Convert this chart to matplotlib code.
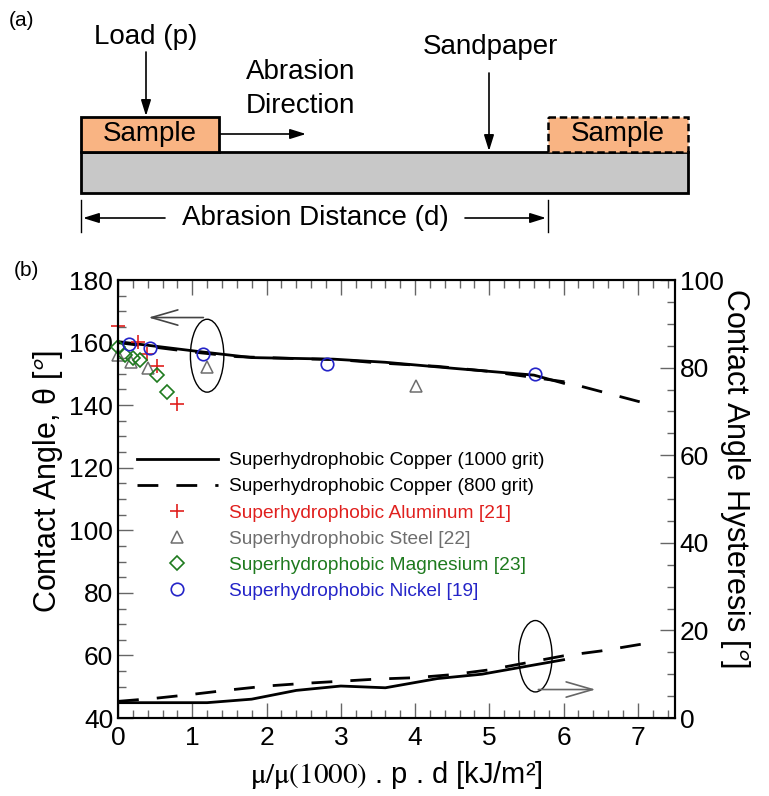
import matplotlib
matplotlib.use("Agg")
import matplotlib.pyplot as plt
from matplotlib.patches import Rectangle, Ellipse
from matplotlib.ticker import MultipleLocator

plt.rcParams['font.family'] = ['Liberation Sans', 'DejaVu Sans']
plt.rcParams['mathtext.fontset'] = 'stix'

# --- donnees ---
# angle de contact (axe gauche)
cu1000_x = [0, 1.1, 1.8, 2.9, 3.6, 4.5, 5.6, 6.0]
cu1000_ca = [160.3, 157.1, 155.2, 154.7, 153.7, 151.8, 149.6, 147.0]
cu800_x = [0, 1.0, 1.6, 2.5, 3.0, 3.5, 4.3, 5.0, 6.0, 7.1]
cu800_ca = [160.0, 157.0, 155.5, 154.8, 154.5, 153.5, 152.4, 150.8, 147.5, 140.6]

# hysteresis (axe droit)
cu1000_hx = [0, 1.2, 1.8, 2.4, 3.0, 3.6, 4.3, 4.9, 5.4, 6.0]
cu1000_h = [3.5, 3.5, 4.3, 6.3, 7.3, 6.9, 9.0, 10.0, 11.5, 13.3]
cu800_hx = [0, 0.5, 1.0, 1.5, 2.0, 2.5, 3.0, 3.5, 4.0, 4.5, 5.0, 5.5, 6.0, 6.5, 7.1]
cu800_h = [3.8, 4.5, 5.4, 6.4, 7.3, 7.9, 8.4, 8.9, 9.2, 9.9, 11.0, 12.6, 14.2, 15.3, 17.0]

# autres materiaux
al_x = [0.0, 0.27, 0.39, 0.53, 0.79]
al_ca = [165.4, 160.3, 156.3, 152.5, 140.3]
steel_x = [0.0, 0.18, 0.41, 1.20, 4.01]
steel_ca = [156.0, 153.9, 152.0, 152.1, 146.0]
mg_x = [0.0, 0.1, 0.2, 0.3, 0.53, 0.66]
mg_ca = [158.6, 156.0, 155.2, 154.3, 149.6, 144.1]
ni_x = [0.15, 0.43, 1.14, 2.82, 5.61]
ni_ca = [159.4, 158.2, 156.2, 153.1, 149.9]

labels = ["Superhydrophobic Copper (1000 grit)",
          "Superhydrophobic Copper (800 grit)",
          "Superhydrophobic Aluminum [21]",
          "Superhydrophobic Steel [22]",
          "Superhydrophobic Magnesium [23]",
          "Superhydrophobic Nickel [19]"]

RED = '#e0201e'
GRAY = '#6e6e6e'
GREEN = '#1e7a1e'
BLUE = '#2424c8'

W, H = 769, 796
fig = plt.figure(figsize=(W / 100, H / 100), dpi=100)

# ---------------- (a) schema ----------------
top = fig.add_axes([0, 1 - 250 / H, 1, 250 / H])
top.set_xlim(0, W)
top.set_ylim(250, 0)
top.axis('off')

fs_a = 20
top.text(22, 20, "(a)", fontsize=15, ha='center', va='center')
top.add_patch(Rectangle((81, 152), 607, 41, fc='#c8c8c8', ec='black', lw=2))
top.add_patch(Rectangle((81, 117), 138, 35, fc='#f9b483', ec='black', lw=2))
top.add_patch(Rectangle((548, 117), 140, 35, fc='#f9b483', ec='black', lw=1.8, ls=(0, (3, 1.5))))
top.text(150, 134, "Sample", fontsize=fs_a, ha='center', va='center')
top.text(618, 134, "Sample", fontsize=fs_a, ha='center', va='center')

arr = dict(arrowstyle='-|>,head_length=0.8,head_width=0.25', color='black', lw=1.2,
           shrinkA=0, shrinkB=0, mutation_scale=12)
top.text(146, 37, "Load (p)", fontsize=fs_a, ha='center', va='center')
top.annotate('', xy=(146, 116), xytext=(146, 52), arrowprops=arr)
top.text(246, 72, "Abrasion", fontsize=fs_a, ha='left', va='center')
top.text(246, 106, "Direction", fontsize=fs_a, ha='left', va='center')
top.annotate('', xy=(306, 134), xytext=(220, 134), arrowprops=arr)
top.text(490, 47, "Sandpaper", fontsize=fs_a, ha='center', va='center')
top.annotate('', xy=(489, 151), xytext=(489, 73), arrowprops=arr)

top.plot([81, 81], [200, 232], color='black', lw=1)
top.plot([548, 548], [200, 232], color='black', lw=1)
top.annotate('', xy=(83, 218), xytext=(165, 218), arrowprops=arr)
top.annotate('', xy=(546, 218), xytext=(465, 218), arrowprops=arr)
top.text(315, 218, "Abrasion Distance (d)", fontsize=fs_a, ha='center', va='center')

# ---------------- (b) graphe ----------------
ax = fig.add_axes([118 / W, 78 / H, 557 / W, 438 / H])
ax2 = ax.twinx()

lw = 2.0
dash = (0, (7.5, 6.5))
ax.plot(cu1000_x, cu1000_ca, color='black', lw=lw, label=labels[0])
ax.plot(cu800_x, cu800_ca, color='black', lw=lw, ls=dash, label=labels[1])
ax.plot(al_x, al_ca, ls='none', marker='+', ms=10, mew=1.2, color=RED, label=labels[2],
        clip_on=False)
ax.plot(steel_x, steel_ca, ls='none', marker='^', ms=8, mfc='none', mew=1.1, color=GRAY,
        label=labels[3], clip_on=False)
ax.plot(mg_x, mg_ca, ls='none', marker='D', ms=7, mfc='none', mew=1.2, color=GREEN,
        label=labels[4], clip_on=False)
ax.plot(ni_x, ni_ca, ls='none', marker='o', ms=9, mfc='none', mew=1.2, color=BLUE,
        label=labels[5], clip_on=False)

ax2.plot(cu1000_hx, cu1000_h, color='black', lw=lw)
ax2.plot(cu800_hx, cu800_h, color='black', lw=lw, ls=dash)

ax.set_xlim(0, 7.5)
ax.set_ylim(40, 180)
ax2.set_ylim(0, 100)

ax.xaxis.set_major_locator(MultipleLocator(1))
ax.xaxis.set_minor_locator(MultipleLocator(0.2))
ax.yaxis.set_major_locator(MultipleLocator(20))
ax.yaxis.set_minor_locator(MultipleLocator(5))
ax2.yaxis.set_major_locator(MultipleLocator(20))
ax2.yaxis.set_minor_locator(MultipleLocator(5))

fs_tick = 19
ax.tick_params(which='both', direction='in', top=True, right=False, color='#666666',
               labelsize=fs_tick)
ax.tick_params(which='major', length=11, width=1)
ax.tick_params(which='minor', length=6, width=1)
ax.tick_params(axis='x', pad=6)
ax2.tick_params(which='both', direction='in', color='#666666', labelsize=fs_tick)
ax2.tick_params(which='major', length=11, width=1)
ax2.tick_params(which='minor', length=6, width=1)
for sp in ax.spines.values():
    sp.set_linewidth(1.5)
for sp in ax2.spines.values():
    sp.set_linewidth(1.5)

ax.set_ylabel("Contact Angle, θ [$^{\\mathsf{o}}$]", fontsize=22, ha='center', va='center')
ax.yaxis.set_label_coords(-0.126, 0.54)
ax2.set_ylabel("Contact Angle Hysteresis [$^{\\mathsf{o}}$]", fontsize=22, rotation=270,
               ha='center', va='center')
ax2.yaxis.set_label_coords(1.108, 0.547)
ax.set_xlabel(r"$\mathrm{\mu/\mu(1000)}$ . p . d [kJ/m²]", fontsize=21, labelpad=6)

fig.text(26 / W, 1 - 270 / H, "(b)", fontsize=15, ha='center', va='center')

# ellipses + fleches
head = '->,head_length=1.9,head_width=0.55'
ax.add_patch(Ellipse((1.20, 155.8), 0.45, 23.3, fill=False, ec='black', lw=1))
ax.annotate('', xy=(0.41, 168.0), xytext=(1.15, 168.0),
            arrowprops=dict(arrowstyle=head, color='#444444', lw=1.2,
                            shrinkA=0, shrinkB=0, mutation_scale=10))
ax2.add_patch(Ellipse((5.62, 14.1), 0.45, 16.3, fill=False, ec='black', lw=1))
ax2.annotate('', xy=(6.43, 6.5), xytext=(5.66, 6.5),
             arrowprops=dict(arrowstyle=head, color='#666666', lw=1.2,
                             shrinkA=0, shrinkB=0, mutation_scale=10))

leg = ax.legend(loc='upper left', bbox_to_anchor=(137 / W, 1 - 452 / H),
                bbox_transform=fig.transFigure, frameon=False, fontsize=13.8,
                handlelength=4.2, handletextpad=0.6, labelspacing=0.45,
                borderpad=0, borderaxespad=0)
for t, c in zip(leg.get_texts(), ['black', 'black', RED, GRAY, GREEN, BLUE]):
    t.set_color(c)

fig.savefig("out.png", dpi=100)
